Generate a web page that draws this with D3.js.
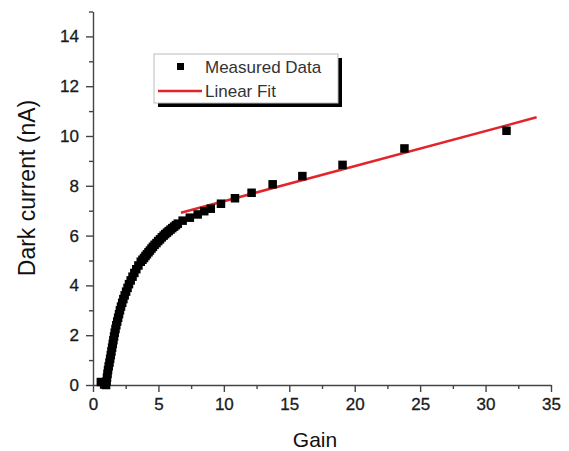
<!DOCTYPE html>
<meta charset="utf-8">
<style>
  body { margin: 0; background: #fff; }
  text { font-family: "Liberation Sans", Arial, sans-serif; }
</style>
<body>
<script src="https://cdnjs.cloudflare.com/ajax/libs/d3/7.8.5/d3.min.js"></script>
<script>
var gain = [0.6, 0.85, 1.0, 1.04, 1.07, 1.11, 1.15, 1.2, 1.26, 1.31, 1.36, 1.41, 1.46, 1.51,
  1.56, 1.61, 1.66, 1.72, 1.78, 1.85, 1.92, 1.99, 2.06, 2.14, 2.23, 2.32, 2.42, 2.53, 2.64,
  2.75, 2.88, 3.02, 3.16, 3.31, 3.47, 3.65, 3.78, 3.9, 4.01, 4.12, 4.24, 4.35, 4.47, 4.58,
  4.71, 4.85, 4.98, 5.12, 5.26, 5.4, 5.52, 5.65, 5.78, 5.92, 6.06, 6.2, 6.34, 6.48,
  6.85, 7.4, 8.0, 8.5, 9.0, 9.78, 10.85, 12.12, 13.73, 16.0, 19.07, 23.8, 31.6];
var current = [0.12, 0.02, 0.0, 0.15, 0.3, 0.45, 0.6, 0.75, 0.9, 1.05, 1.2, 1.35, 1.5, 1.65,
  1.8, 1.95, 2.1, 2.25, 2.4, 2.55, 2.7, 2.85, 3.0, 3.15, 3.3, 3.45, 3.6, 3.75, 3.9,
  4.05, 4.2, 4.35, 4.5, 4.65, 4.8, 4.95, 5.03, 5.1, 5.18, 5.25, 5.33, 5.4, 5.48, 5.55,
  5.63, 5.7, 5.78, 5.85, 5.93, 6.0, 6.06, 6.12, 6.18, 6.24, 6.3, 6.36, 6.42, 6.48,
  6.6, 6.72, 6.85, 6.98, 7.08, 7.28, 7.5, 7.72, 8.06, 8.39, 8.84, 9.5, 10.21];

// linear fit: current = fitIntercept + fitSlope * gain, drawn over fitRange
var fitSlope = 0.141;
var fitIntercept = 5.97;
var fitRange = [6.72, 33.9];

var xMajor = [0, 5, 10, 15, 20, 25, 30, 35];
var xMinor = [2.5, 7.5, 12.5, 17.5, 22.5, 27.5, 32.5];
var yMajor = [0, 2, 4, 6, 8, 10, 12, 14];
var yMinor = [1, 3, 5, 7, 9, 11, 13, 15];

var legendLabels = ["Measured Data", "Linear Fit"];

var width = 569, height = 451;
var svg = d3.select("body").append("svg")
  .attr("width", width)
  .attr("height", height);

var x = d3.scaleLinear().domain([0, 35]).range([93, 551]);
var y = d3.scaleLinear().domain([0, 15]).range([385, 11.5]);

var axisColor = "#444";

// x axis
var gx = svg.append("g").attr("transform", "translate(0," + y(0) + ")");
gx.call(d3.axisBottom(x).tickValues(xMajor).tickSize(7).tickSizeOuter(0).tickPadding(6));
gx.append("g").call(d3.axisBottom(x).tickValues(xMinor).tickSize(4).tickFormat(""))
  .select(".domain").remove();

// y axis
var gy = svg.append("g").attr("transform", "translate(" + x(0) + ",0)");
gy.call(d3.axisLeft(y).tickValues(yMajor).tickSize(7).tickSizeOuter(0).tickPadding(7));
gy.append("g").call(d3.axisLeft(y).tickValues(yMinor).tickSize(4).tickFormat(""))
  .select(".domain").remove();

svg.selectAll(".domain").attr("stroke", axisColor).attr("stroke-width", 1.4);
svg.selectAll(".tick line").attr("stroke", axisColor).attr("stroke-width", 1.4);
svg.selectAll(".tick text")
  .attr("fill", "#1a1a1a")
  .attr("stroke", "#1a1a1a")
  .attr("stroke-width", 0.3)
  .style("font-size", "17px")
  .style("font-family", "'Liberation Sans', Arial, sans-serif");

// axis titles
svg.append("text")
  .attr("x", 315).attr("y", 447)
  .attr("text-anchor", "middle")
  .style("font-size", "21px")
  .attr("fill", "#111")
  .text("Gain");

svg.append("text")
  .attr("transform", "translate(35,188) rotate(-90)")
  .attr("text-anchor", "middle")
  .style("font-size", "23px")
  .attr("fill", "#111")
  .text("Dark current (nA)");

// linear fit
svg.append("line")
  .attr("x1", x(fitRange[0])).attr("y1", y(fitIntercept + fitSlope * fitRange[0]))
  .attr("x2", x(fitRange[1])).attr("y2", y(fitIntercept + fitSlope * fitRange[1]))
  .attr("stroke", "#e3242b")
  .attr("stroke-width", 2.5);

// measured points
var pts = d3.range(gain.length).map(function(i) { return {g: gain[i], c: current[i]}; });
var ms = 8.5;
svg.append("g").selectAll("rect")
  .data(pts)
  .enter().append("rect")
  .attr("x", function(d) { return x(d.g) - ms / 2; })
  .attr("y", function(d) { return y(d.c) - ms / 2; })
  .attr("width", ms)
  .attr("height", ms)
  .attr("fill", "#000");

// legend
var lg = svg.append("g");
lg.append("rect")
  .attr("x", 158).attr("y", 58).attr("width", 184).attr("height", 49)
  .attr("fill", "#000");
lg.append("rect")
  .attr("x", 154).attr("y", 54).attr("width", 184).attr("height", 49)
  .attr("fill", "#fff").attr("stroke", "#bbb").attr("stroke-width", 1);
lg.append("rect")
  .attr("x", 177).attr("y", 63).attr("width", 7).attr("height", 7)
  .attr("fill", "#000");
lg.append("line")
  .attr("x1", 158).attr("x2", 202).attr("y1", 91).attr("y2", 91)
  .attr("stroke", "#e3242b").attr("stroke-width", 2.5);
lg.selectAll("text.lab")
  .data(legendLabels)
  .enter().append("text")
  .attr("class", "lab")
  .attr("x", 205)
  .attr("y", function(d, i) { return 73 + i * 24; })
  .style("font-size", "17px")
  .attr("fill", "#333")
  .text(function(d) { return d; });
</script>
</body>
